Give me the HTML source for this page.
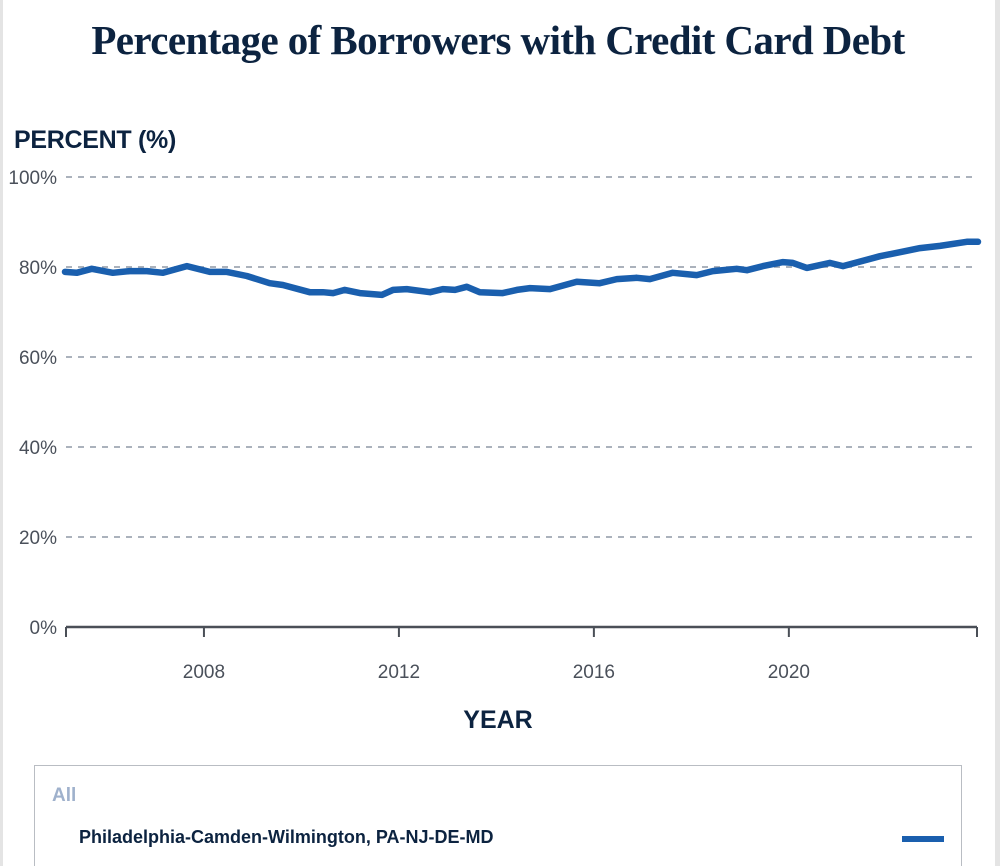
<!DOCTYPE html>
<html><head><meta charset="utf-8"><style>
html,body{margin:0;padding:0;background:#fff;width:1000px;height:866px;overflow:hidden}
body{font-family:"Liberation Sans",sans-serif;position:relative}
#title{position:absolute;left:0;width:996px;top:16px;text-align:center;font-family:"Liberation Serif",serif;font-weight:bold;font-size:41px;color:#0c2340;letter-spacing:-0.6px}
#ylabel{position:absolute;left:14px;top:126px;font-weight:bold;font-size:25px;color:#0c2340;letter-spacing:-0.3px}
#xlabel{position:absolute;left:0;width:996px;top:706px;text-align:center;font-weight:bold;font-size:25px;color:#0c2340}
#legend{position:absolute;left:34px;top:765px;width:926px;height:120px;border:1px solid #b9bdc3}
#all{position:absolute;left:17px;top:19px;font-size:19px;font-weight:bold;color:#9fb1cc}
#entry{position:absolute;left:44px;top:61px;font-size:18px;font-weight:bold;color:#0c2340}
#swatch{position:absolute;left:867px;top:70px;width:42px;height:6px;background:#1a5fae}
#edgeL{position:absolute;left:0;top:0;width:3px;height:866px;background:#e4e4e4}
#edgeR{position:absolute;left:995px;top:0;width:5px;height:866px;background:#e4e4e4}
</style></head><body>
<div id="edgeL"></div>
<div id="edgeR"></div>
<div id="title">Percentage of Borrowers with Credit Card Debt</div>
<div id="ylabel">PERCENT (%)</div>
<svg id="chart" width="1000" height="866" style="position:absolute;left:0;top:0"></svg>
<div id="xlabel">YEAR</div>
<div id="legend">
<div id="all">All</div>
<div id="entry">Philadelphia-Camden-Wilmington, PA-NJ-DE-MD</div>
<div id="swatch"></div>
</div>
<script>
const years=[2005.15,2005.39,2005.70,2006.13,2006.48,2006.83,2007.16,2007.65,2008.12,2008.47,2008.88,2009.35,2009.62,2010.17,2010.44,2010.65,2010.89,2011.20,2011.65,2011.88,2012.16,2012.64,2012.90,2013.15,2013.39,2013.66,2014.13,2014.42,2014.69,2015.10,2015.65,2016.12,2016.47,2016.88,2017.15,2017.62,2018.11,2018.44,2018.93,2019.14,2019.47,2019.88,2020.08,2020.37,2020.84,2021.11,2021.87,2022.28,2022.69,2023.10,2023.65,2023.88];
const values=[78.9,78.7,79.6,78.7,79.1,79.1,78.7,80.2,78.9,78.9,78.0,76.4,76.0,74.4,74.4,74.2,74.9,74.2,73.8,74.9,75.1,74.4,75.1,74.9,75.6,74.4,74.2,74.9,75.3,75.1,76.7,76.4,77.3,77.6,77.3,78.7,78.2,79.1,79.6,79.3,80.2,81.1,80.9,79.8,80.9,80.2,82.4,83.3,84.2,84.7,85.6,85.6];
const yTicks=[0,20,40,60,80,100];
const yTickLabels=["0%","20%","40%","60%","80%","100%"];
const xTicks=[2008,2012,2016,2020];
const xTickLabels=["2008","2012","2016","2020"];
const xMin=2005.17,xMax=2023.86;
const L=66,R=977,T=177,B=627;
const sx=v=>L+(v-xMin)/(xMax-xMin)*(R-L);
const sy=v=>B-(v/100)*(B-T);
const svg=document.getElementById('chart');
const NS='http://www.w3.org/2000/svg';
function mk(tag,attrs){const e=document.createElementNS(NS,tag);for(const k in attrs)e.setAttribute(k,attrs[k]);svg.appendChild(e);return e;}
yTicks.forEach((t,i)=>{
 if(t>0){const g=mk('line',{x1:L,x2:R,y1:sy(t),y2:sy(t),stroke:'#8f98a6','stroke-width':1.4,'stroke-dasharray':'6,6'});
 
 }
 const tx=mk('text',{x:57,y:sy(t)+7,'text-anchor':'end','font-size':19,fill:'#4a505a','font-family':'Liberation Sans, sans-serif'});
 tx.textContent=yTickLabels[i];
 
 
});
const ax=mk('line',{x1:L,x2:R,y1:B,y2:B,stroke:'#4a4f57','stroke-width':2.5});


[L,R].forEach(x=>{const e=mk('line',{x1:x,x2:x,y1:B,y2:B+10,stroke:'#4a4f57','stroke-width':2});
 
 });
xTicks.forEach((t,i)=>{
 const e=mk('line',{x1:sx(t),x2:sx(t),y1:B,y2:B+10,stroke:'#4a4f57','stroke-width':2});
 
 
 const tx=mk('text',{x:sx(t),y:678,'text-anchor':'middle','font-size':19,fill:'#4a505a','font-family':'Liberation Sans, sans-serif'});
 tx.textContent=xTickLabels[i];
 
 
});
const d=years.map((y,i)=>(i?'L':'M')+sx(y).toFixed(1)+','+sy(values[i]).toFixed(1)).join(' ');
const p=mk('path',{d:d,fill:'none',stroke:'#1a5fae','stroke-width':6.5,'stroke-linejoin':'round','stroke-linecap':'round'});


</script>
</body></html>
